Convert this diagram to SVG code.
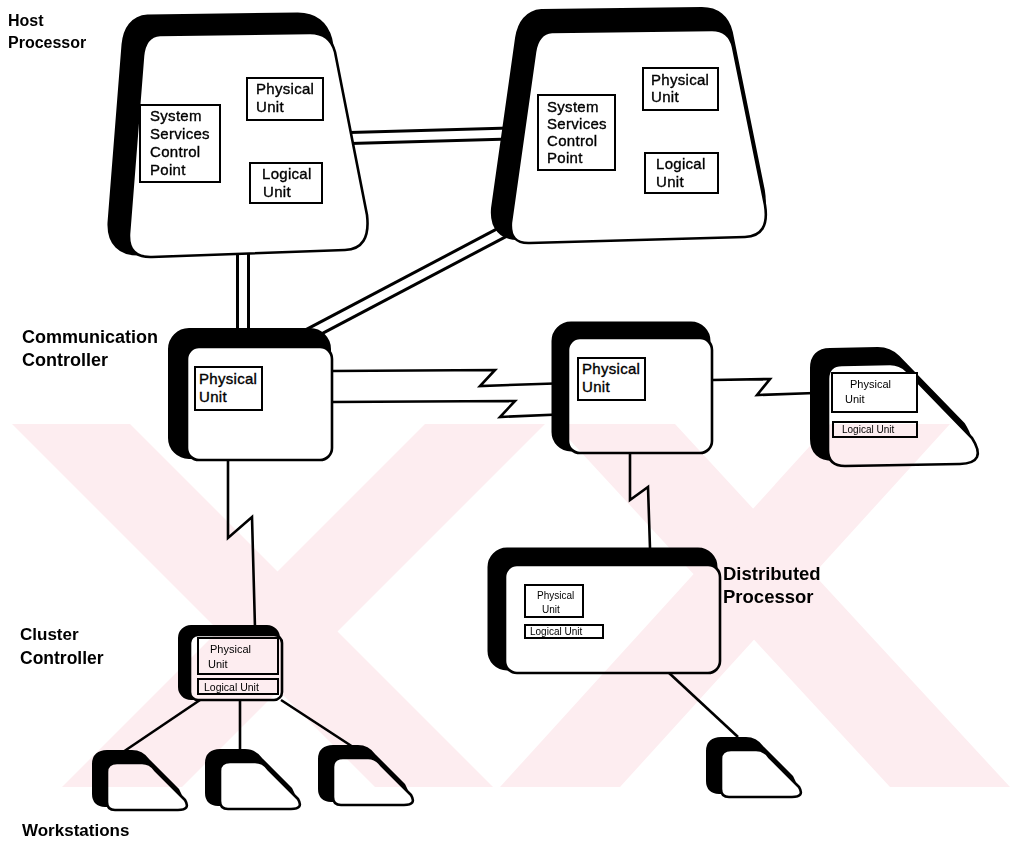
<svg xmlns="http://www.w3.org/2000/svg" xmlns:xlink="http://www.w3.org/1999/xlink" width="1019" height="847" viewBox="0 0 1019 847">
<style>
.face{fill:#fff;stroke:#000;stroke-width:2.6;stroke-linejoin:round}
.shadow{fill:#000;stroke:#000;stroke-linejoin:round}
.box{fill:#fff;stroke:#000;stroke-width:2}
.t{font-family:"Liberation Sans",Arial,sans-serif;font-size:15px;fill:#000;stroke:#000;stroke-width:0.35px;letter-spacing:0.3px}
.ts{font-family:"Liberation Sans",Arial,sans-serif;font-size:10px;fill:#000}
.lbl{font-family:"Liberation Sans",Arial,sans-serif;font-weight:bold;font-size:17px;fill:#000}
.wire{fill:none;stroke:#000;stroke-width:2.6;stroke-linejoin:miter}
.dblo{fill:none;stroke:#000;stroke-width:14}
.dbli{fill:none;stroke:#fff;stroke-width:8}
.wm{fill:#fdedf0}
</style>
<defs>
<path id="h1" d="M160,35 L310,33 Q330,33 335,52 L367,215 Q371,249 345,250 L152,257 Q128,258 129,234 L143,56 Q145,36 160,35 Z"/>
<path id="h2" d="M552,32 L712,30 Q729,30 733,47 L765,205 Q770,236 745,237 L530,243 Q509,244 511,222 L535,52 Q538,33 552,32 Z"/>
<rect id="cc" x="187" y="347" width="145" height="113" rx="12"/>
<rect id="rpu" x="568" y="338" width="144" height="115" rx="12"/>
<path id="rt" d="M842,365 L890,364 Q900,364 907,371 L972,438 Q988,463 960,464 L845,466 Q828,466 828,450 L828,379 Q828,365 842,365 Z"/>
<rect id="dp" x="505" y="565" width="215" height="108" rx="12"/>
<rect id="cl" x="190" y="635" width="92" height="65" rx="8"/>
<path id="ws" d="M10,0 L35,0 Q43,0 48,7 L78,37 Q84,47 71,47 L8,47 Q0,47 0,39 L0,9 Q0,0 10,0 Z"/>
</defs>

<g id="connectors">
<path class="dblo" d="M350,138 L525,133"/><path class="dbli" d="M350,138 L525,133"/>
<path class="dblo" d="M243,250 L243,340"/><path class="dbli" d="M243,250 L243,340"/>
<path class="dblo" d="M300,339 L520,223"/><path class="dbli" d="M300,339 L520,223"/>
<path class="wire" d="M332,371 L495,370 L480,386 L570,383"/>
<path class="wire" d="M332,402 L515,401 L500,417 L570,414"/>
<path class="wire" d="M712,380 L770,379 L757,395 L815,393"/>
<path class="wire" d="M630,453 L630,500 L648,487 L650,548"/>
<path class="wire" d="M228,460 L228,538 L252,517 L255,628"/>
<path class="wire" d="M200,700 L123,752"/>
<path class="wire" d="M240,700 L240,750"/>
<path class="wire" d="M281,700 L353,747"/>
<path class="wire" d="M668,672 L738,737"/>
</g>

<g id="host1">
<use href="#h1" class="shadow" transform="translate(-12,-11)" style="stroke-width:19"/>
<use href="#h1" class="face"/>
<rect class="box" x="140" y="105" width="80" height="77"/>
<text class="t" x="150" y="121">System</text>
<text class="t" x="150" y="139">Services</text>
<text class="t" x="150" y="157">Control</text>
<text class="t" x="150" y="175">Point</text>
<rect class="box" x="247" y="78" width="76" height="42"/>
<text class="t" x="256" y="94">Physical</text>
<text class="t" x="256" y="112">Unit</text>
<rect class="box" x="250" y="163" width="72" height="40"/>
<text class="t" x="262" y="179">Logical</text>
<text class="t" x="263" y="197">Unit</text>
</g>

<g id="host2">
<use href="#h2" class="shadow" transform="translate(-10,-13)" style="stroke-width:20"/>
<use href="#h2" class="face"/>
<rect class="box" x="538" y="95" width="77" height="75"/>
<text class="t" x="547" y="112">System</text>
<text class="t" x="547" y="129">Services</text>
<text class="t" x="547" y="146">Control</text>
<text class="t" x="547" y="163">Point</text>
<rect class="box" x="643" y="68" width="75" height="42"/>
<text class="t" x="651" y="85">Physical</text>
<text class="t" x="651" y="102">Unit</text>
<rect class="box" x="645" y="153" width="73" height="40"/>
<text class="t" x="656" y="169">Logical</text>
<text class="t" x="656" y="187">Unit</text>
</g>

<g id="comm-controller">
<use href="#cc" class="shadow" transform="translate(-10,-10)" style="stroke-width:18"/>
<use href="#cc" class="face"/>
<rect class="box" x="195" y="367" width="67" height="43"/>
<text class="t" x="199" y="384">Physical</text>
<text class="t" x="199" y="402">Unit</text>
</g>

<g id="remote-controller">
<use href="#rpu" class="shadow" transform="translate(-9,-9)" style="stroke-width:15"/>
<use href="#rpu" class="face"/>
<rect class="box" x="578" y="358" width="67" height="42"/>
<text class="t" x="582" y="374">Physical</text>
<text class="t" x="582" y="392">Unit</text>
</g>

<g id="remote-terminal">
<use href="#rt" class="shadow" transform="translate(-12,-11)" style="stroke-width:12"/>
<use href="#rt" class="face"/>
<rect class="box" x="832" y="373" width="85" height="39"/>
<text class="ts" x="850" y="388" style="font-size:11px">Physical</text>
<text class="ts" x="845" y="403" style="font-size:11px">Unit</text>
<rect class="box" x="833" y="422" width="84" height="15"/>
<text class="ts" x="842" y="433">Logical Unit</text>
</g>

<g id="distributed-processor">
<use href="#dp" class="shadow" transform="translate(-10,-10)" style="stroke-width:15"/>
<use href="#dp" class="face"/>
<rect class="box" x="525" y="585" width="58" height="32"/>
<text class="ts" x="537" y="599">Physical</text>
<text class="ts" x="542" y="613">Unit</text>
<rect class="box" x="525" y="625" width="78" height="13"/>
<text class="ts" x="530" y="635">Logical Unit</text>
</g>

<g id="cluster-controller">
<use href="#cl" class="shadow" transform="translate(-7,-5)" style="stroke-width:10"/>
<use href="#cl" class="face"/>
<rect class="box" x="198" y="638" width="80" height="36"/>
<text class="ts" x="210" y="653" style="font-size:11px">Physical</text>
<text class="ts" x="208" y="668" style="font-size:11px">Unit</text>
<rect class="box" x="198" y="679" width="80" height="15"/>
<text class="ts" x="204" y="691" style="font-size:10.5px">Logical Unit</text>
</g>

<g id="workstation1">
<use href="#ws" class="shadow" transform="translate(97,755)" style="stroke-width:10"/>
<use href="#ws" class="face" transform="translate(107,763)"/>
</g>
<g id="workstation2">
<use href="#ws" class="shadow" transform="translate(210,754)" style="stroke-width:10"/>
<use href="#ws" class="face" transform="translate(220,762)"/>
</g>
<g id="workstation3">
<use href="#ws" class="shadow" transform="translate(323,750)" style="stroke-width:10"/>
<use href="#ws" class="face" transform="translate(333,758)"/>
</g>
<g id="workstation4">
<use href="#ws" class="shadow" transform="translate(711,742)" style="stroke-width:10"/>
<use href="#ws" class="face" transform="translate(721,750)"/>
</g>

<g id="labels">
<text class="lbl" x="8" y="26" style="font-size:16px">Host</text>
<text class="lbl" x="8" y="48" style="font-size:16px">Processor</text>
<text class="lbl" x="22" y="343" style="font-size:18px">Communication</text>
<text class="lbl" x="22" y="366" style="font-size:18px">Controller</text>
<text class="lbl" x="723" y="580" style="font-size:18.5px">Distributed</text>
<text class="lbl" x="723" y="603" style="font-size:18.5px">Processor</text>
<text class="lbl" x="20" y="640">Cluster</text>
<text class="lbl" x="20" y="664" style="font-size:17.5px">Controller</text>
<text class="lbl" x="22" y="836">Workstations</text>
</g>

<g id="watermark" style="mix-blend-mode:multiply">
<polygon class="wm" points="12,424 130,424 493,787 375,787"/>
<polygon class="wm" points="425,424 545,424 182,787 62,787"/>
<polygon class="wm" points="555,424 675,424 1010,787 890,787"/>
<polygon class="wm" points="830,424 950,424 620,787 500,787"/>
</g>
</svg>
